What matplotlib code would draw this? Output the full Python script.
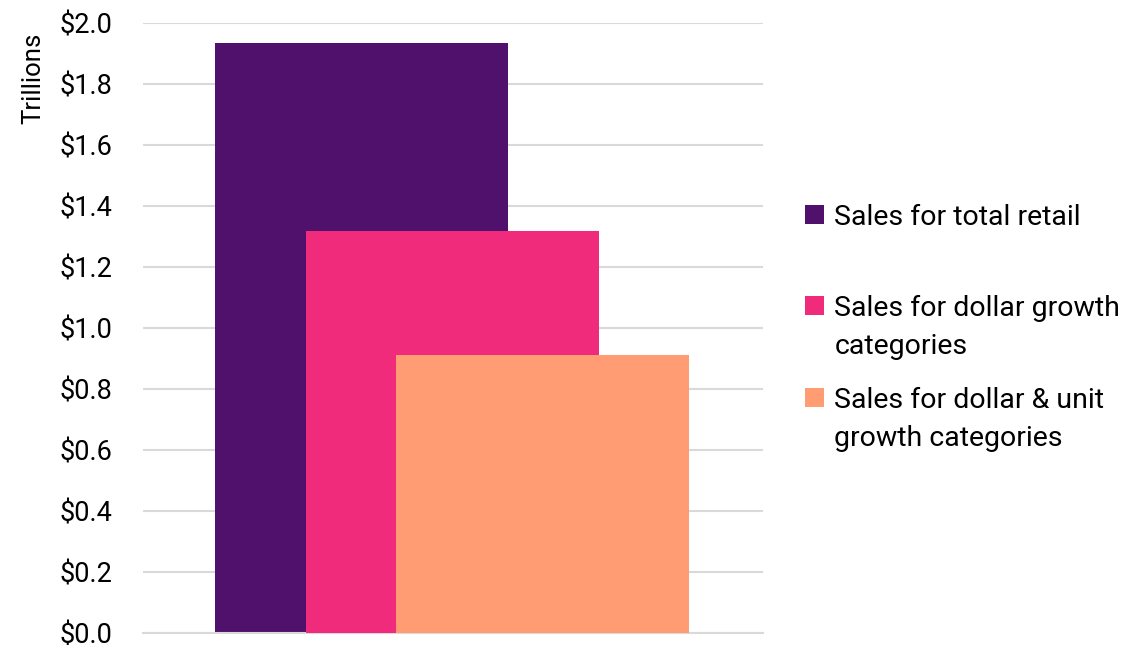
import matplotlib

matplotlib.use("Agg")
import matplotlib.pyplot as plt  # noqa: E402
from matplotlib.patches import Patch  # noqa: E402

series = ["Sales for total retail",
          "Sales for dollar growth\ncategories",
          "Sales for dollar & unit\ngrowth categories"]
values = [1.934, 1.319, 0.913]  # trillions of dollars
colors = ["#4F116B", "#F02B7B", "#FF9C73"]
yticks = [0.0, 0.2, 0.4, 0.6, 0.8, 1.0, 1.2, 1.4, 1.6, 1.8, 2.0]

plt.rcParams["font.family"] = ["Roboto", "DejaVu Sans"]

fig = plt.figure(figsize=(11.45, 6.45), dpi=100)
ax = fig.add_axes([0.1249, 0.0186, 0.5415, 0.9457])

width = 0.4726
step = 0.1465
for i, (v, c) in enumerate(zip(values, colors)):
    ax.bar(0.352 + step * i, v, width=width, color=c, zorder=2 + i)

ax.set_xlim(0, 1)
ax.set_ylim(0, 2.0)
ax.set_xticks([])
ax.set_yticks(yticks)
ax.set_yticklabels([f"${t:.1f}" for t in yticks], fontsize=19.5)
ax.tick_params(axis="y", length=0, pad=22)
ax.grid(axis="y", color="#D9D9D9", linewidth=1.5, zorder=0)
for side in ["top", "right", "left"]:
    ax.spines[side].set_visible(False)
ax.spines["bottom"].set_color("#D9D9D9")
ax.spines["bottom"].set_linewidth(1.5)

fig.text(0.029, 1 - 78 / 645, "Trillions", rotation=90, ha="center",
         va="center", fontsize=18.5)

# legend entries placed one by one, Excel spaces them unevenly and puts the
# swatch next to the first line of a wrapped label
legend_y = [217, 308, 400]
line_gap = 39 / 645
fsize = 20.5
fig.canvas.draw()
for lab, c, y in zip(series, colors, legend_y):
    lines = lab.split("\n")
    leg = fig.legend(handles=[Patch(facecolor=c)], labels=[lines[0]],
                     loc="center left", bbox_to_anchor=(0.703, 1 - y / 645),
                     frameon=False, fontsize=fsize, handlelength=0.68,
                     handleheight=0.68, handletextpad=0.35,
                     borderaxespad=0, borderpad=0)
    if len(lines) > 1:
        fig.canvas.draw()
        bb = leg.get_texts()[0].get_window_extent()
        x0 = bb.x0 / fig.bbox.width
        yc = (bb.y0 + bb.y1) / 2 / fig.bbox.height
        for k, extra in enumerate(lines[1:], start=1):
            fig.text(x0, yc - k * line_gap, extra, fontsize=fsize,
                     ha="left", va="center")

fig.savefig("out.png", dpi=100)
plt.close(fig)
